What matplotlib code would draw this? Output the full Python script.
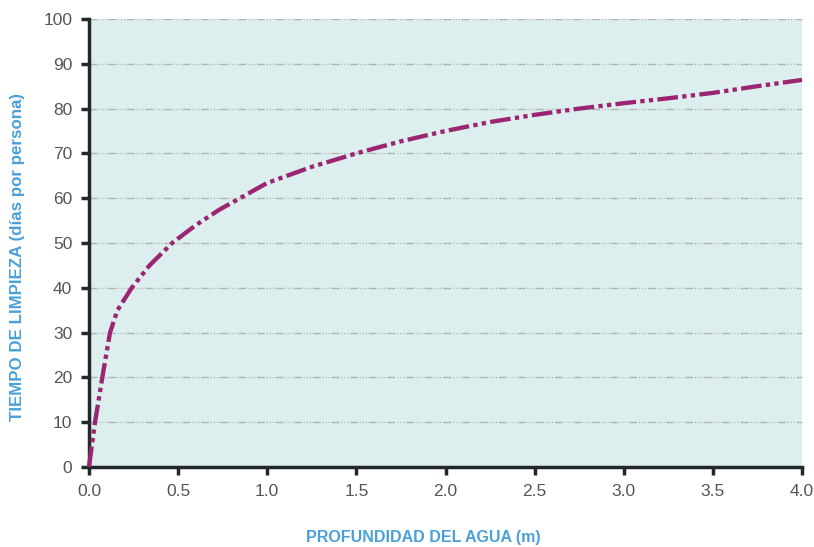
import matplotlib
matplotlib.use("Agg")
import matplotlib.pyplot as plt

profundidad = [0.0, 0.034, 0.075, 0.118, 0.16, 0.24, 0.34, 0.467, 0.6, 0.73, 1.0, 1.25, 1.5,
               1.75, 2.0, 2.25, 2.5, 2.75, 3.0, 3.25, 3.5, 3.75, 4.0]
tiempo = [0, 10, 20, 30, 35, 40, 45, 50, 54, 57.4, 63.4, 67, 70,
          72.7, 75, 77, 78.6, 80, 81.2, 82.3, 83.5, 85, 86.4]

xticks = [0.0, 0.5, 1.0, 1.5, 2.0, 2.5, 3.0, 3.5, 4.0]
yticks = [0, 10, 20, 30, 40, 50, 60, 70, 80, 90, 100]

plt.rcParams['font.family'] = ['Liberation Sans', 'DejaVu Sans']

fig = plt.figure(figsize=(8.14, 5.47), dpi=100)
ax = fig.add_axes([0.1093, 0.1463, 0.876, 0.819])
ax.set_facecolor('#dcefee')

ax.plot(profundidad, tiempo, color='#9b2570', lw=3.1,
        dashes=(4.8, 1, 1, 1, 1, 1), zorder=3, clip_on=False)

ax.set_xlim(0, 4.0)
ax.set_ylim(0, 100)
ax.set_xticks(xticks)
ax.set_xticklabels([f"{t:.1f}" for t in xticks])
ax.set_yticks(yticks)
ax.grid(axis='y', color='#b0b5b3', lw=1.0,
        dashes=(5.8, 1.3, 0.8, 1.3, 0.8, 1.3, 0.8, 1.3))
ax.set_axisbelow(True)

for s in ['top', 'right']:
    ax.spines[s].set_visible(False)
for s in ['left', 'bottom']:
    ax.spines[s].set_color('#222829')
    ax.spines[s].set_linewidth(2.5)

ax.tick_params(direction='out', length=6, width=2.5, color='#222829',
               labelsize=12.5, labelcolor='#555555', pad=6)

lab = dict(color='#4aa0d8', fontweight='bold',
           family=['Liberation Sans Narrow', 'Liberation Sans', 'DejaVu Sans'])
fig.text(0.52, 0.003, 'PROFUNDIDAD DEL AGUA (m)', ha='center', va='bottom',
         fontsize=11.5, **lab)
fig.text(0.022, 0.53, 'TIEMPO DE LIMPIEZA (días por persona)', rotation=90,
         ha='center', va='center', fontsize=12.2, **lab)

fig.savefig('out.png', dpi=100)
